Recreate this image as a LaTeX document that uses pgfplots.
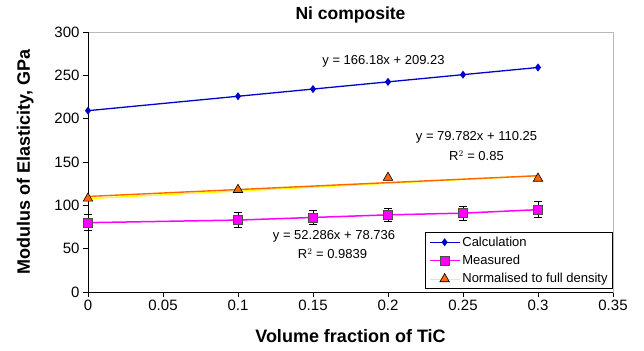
\documentclass[border=0pt]{standalone}
\usepackage{fontspec}
\setmainfont{Liberation Sans}
\usepackage{pgfplots}
\pgfplotsset{compat=1.18}
\definecolor{calcblue}{RGB}{0,0,204}
\definecolor{magen}{RGB}{255,0,255}
\definecolor{orng}{RGB}{255,102,0}
\definecolor{yel}{RGB}{255,255,0}
\begin{document}
\begin{tikzpicture}
\useasboundingbox (-88bp,-59bp) rectangle (556bp,292bp);
\begin{axis}[
  scale only axis, width=525bp, height=260bp,
  xmin=0, xmax=0.35, ymin=0, ymax=300,
  xtick={0,0.05,...,0.35}, ytick={0,50,...,300},
  xticklabel={\pgfmathprintnumber[fixed,precision=2]{\tick}},
  /pgf/number format/assume math mode=true,
  tick align=outside, xtick pos=bottom, ytick pos=left,
  major tick length=5bp,
  tick style={black, line width=0.8pt},
  ticklabel style={font=\fontsize{15bp}{17bp}\selectfont},
  axis line style={gray!55, line width=0.8pt},
  title={\bfseries Ni composite},
  title style={font=\fontsize{17.5bp}{20bp}\selectfont, at={(axis description cs:0.5,1.027)}, anchor=base},
  xlabel={\bfseries Volume fraction of TiC},
  ylabel={\bfseries Modulus of Elasticity, GPa},
  label style={font=\fontsize{18bp}{21bp}\selectfont},
  xlabel style={at={(axis description cs:0.5,-0.196)}, anchor=base},
  ylabel style={at={(axis description cs:-0.1105,0.5)}, anchor=base},
  legend style={at={(1,0.012)}, anchor=south east, draw=black, line width=0.8pt,
    font=\fontsize{13bp}{15bp}\selectfont, row sep=3.5bp, inner xsep=3bp, inner ysep=2bp},
  legend cell align=left,
  legend image code/.code={\draw[mark repeat=2,mark phase=2,#1] plot coordinates {(0bp,0bp)(15bp,0bp)(30bp,0bp)};},
  clip=false,
]
\draw[black, line width=0.8pt] (rel axis cs:0,0) -- (rel axis cs:0,1);
\draw[black, line width=0.8pt] (rel axis cs:0,0) -- (rel axis cs:1,0);

% Calculation
\addplot[calcblue, line width=1.3pt, mark=diamond*, mark size=3pt, mark options={fill=calcblue}]
  coordinates {(0,209.23) (0.1,225.85) (0.15,234.16) (0.2,242.47) (0.25,250.78) (0.3,259.08)};
\addlegendentry{Calculation}

% Measured trend line + points with error bars
\addplot[magen, line width=1.5pt, mark=square*, mark size=4.5pt,
  mark options={fill=magen, draw=black!70, line width=0.5pt},
  error bars/.cd, y dir=both, y explicit,
  error bar style={black, line width=0.8pt}, error mark options={black, rotate=90, mark size=4pt, line width=0.8pt}]
  coordinates {(0,80) +- (0,9) (0.1,83) +- (0,9) (0.15,86) +- (0,8) (0.2,89) +- (0,8) (0.25,91) +- (0,8) (0.3,95) +- (0,9)};
\addlegendentry{Measured}

% Normalised to full density
\addlegendimage{legend image code/.code={\draw[yel, line width=1pt, mark repeat=2, mark phase=2, mark=triangle*, mark size=5.5pt, mark options={fill=orng, draw=black, line width=0.6pt}] plot coordinates {(0bp,0bp)(15bp,0bp)(30bp,0bp)};}}
\addlegendentry{Normalised to full density}

\addplot[yel, line width=1.4pt, forget plot] coordinates {(0,107.8) (0.3,134.18)};
\addplot[orng, line width=1.4pt, forget plot] coordinates {(0,110.25) (0.3,134.18)};
\addplot[only marks, mark=triangle*, mark size=5.5pt, forget plot,
  mark options={fill=orng, draw=black, line width=0.6pt}]
  coordinates {(0,108) (0.1,118) (0.2,132) (0.3,131)};

\node[font=\fontsize{13bp}{15bp}\selectfont] at (axis cs:0.197,266) {y = 166.18x + 209.23};
\node[font=\fontsize{13bp}{15bp}\selectfont] at (axis cs:0.259,179) {y = 79.782x + 110.25};
\node[font=\fontsize{13bp}{15bp}\selectfont] at (axis cs:0.259,157) {R$^2$ = 0.85};
\node[font=\fontsize{13bp}{15bp}\selectfont] at (axis cs:0.164,64.6) {y = 52.286x + 78.736};
\node[font=\fontsize{13bp}{15bp}\selectfont] at (axis cs:0.163,44) {R$^2$ = 0.9839};
\end{axis}
\end{tikzpicture}
\end{document}
